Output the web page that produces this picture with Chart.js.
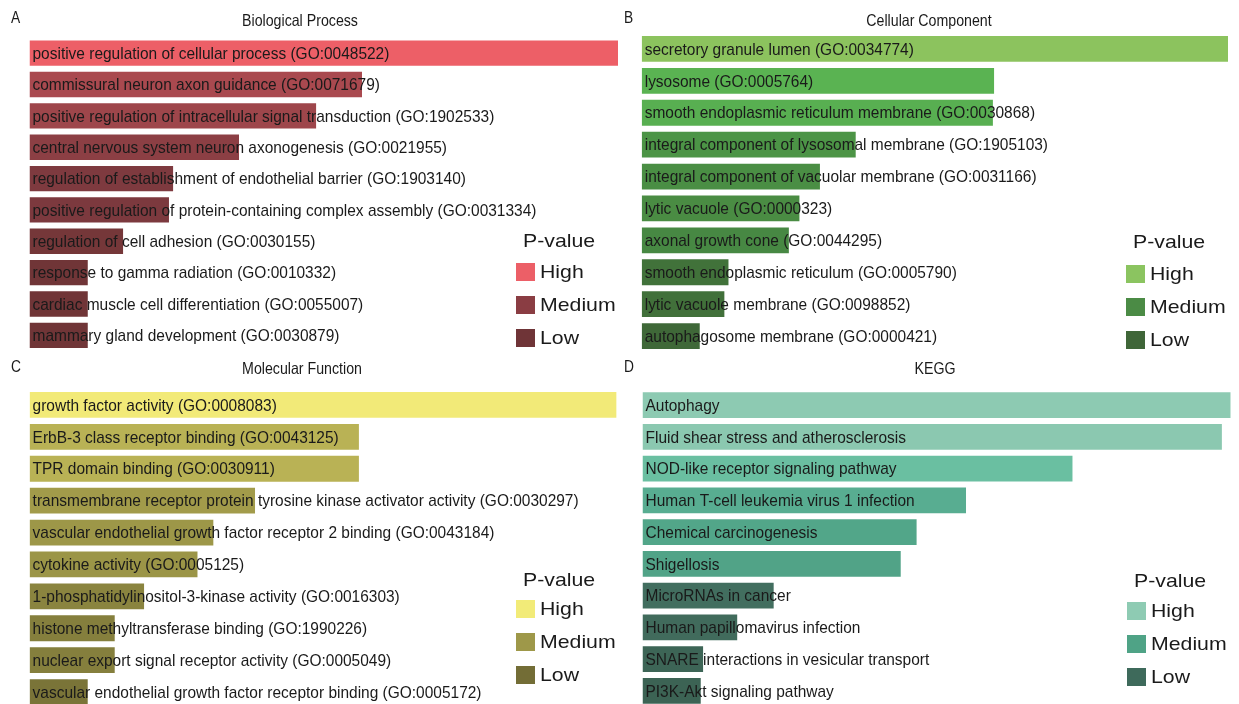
<!DOCTYPE html>
<html>
<head>
<meta charset="utf-8">
<script src="https://cdn.jsdelivr.net/npm/chart.js@4/dist/chart.umd.min.js"></script>
<style>
  html, body { margin: 0; padding: 0; background: #ffffff; width: 1239px; height: 704px; overflow: hidden; }
  canvas { position: absolute; }
</style>
</head>
<body>
<canvas id="bp" width="620" height="352" style="left:0;top:0"></canvas>
<canvas id="cc" width="619" height="352" style="left:620px;top:0"></canvas>
<canvas id="mf" width="620" height="360" style="left:0;top:352px"></canvas>
<canvas id="kegg" width="619" height="360" style="left:620px;top:352px"></canvas>
<script>
// ---- Enrichment terms and relative enrichment scores (top term = 100) ----
const bpTerms = [
  "positive regulation of cellular process (GO:0048522)",
  "commissural neuron axon guidance (GO:0071679)",
  "positive regulation of intracellular signal transduction (GO:1902533)",
  "central nervous system neuron axonogenesis (GO:0021955)",
  "regulation of establishment of endothelial barrier (GO:1903140)",
  "positive regulation of protein-containing complex assembly (GO:0031334)",
  "regulation of cell adhesion (GO:0030155)",
  "response to gamma radiation (GO:0010332)",
  "cardiac muscle cell differentiation (GO:0055007)",
  "mammary gland development (GO:0030879)"
];
const bpScores = [100, 56.5, 48.7, 35.6, 24.4, 23.7, 15.9, 9.9, 9.9, 9.9];

const ccTerms = [
  "secretory granule lumen (GO:0034774)",
  "lysosome (GO:0005764)",
  "smooth endoplasmic reticulum membrane (GO:0030868)",
  "integral component of lysosomal membrane (GO:1905103)",
  "integral component of vacuolar membrane (GO:0031166)",
  "lytic vacuole (GO:0000323)",
  "axonal growth cone (GO:0044295)",
  "smooth endoplasmic reticulum (GO:0005790)",
  "lytic vacuole membrane (GO:0098852)",
  "autophagosome membrane (GO:0000421)"
];
const ccScores = [100, 60.1, 59.9, 36.5, 30.4, 26.9, 25.1, 14.8, 14.1, 9.9];

const mfTerms = [
  "growth factor activity (GO:0008083)",
  "ErbB-3 class receptor binding (GO:0043125)",
  "TPR domain binding (GO:0030911)",
  "transmembrane receptor protein tyrosine kinase activator activity (GO:0030297)",
  "vascular endothelial growth factor receptor 2 binding (GO:0043184)",
  "cytokine activity (GO:0005125)",
  "1-phosphatidylinositol-3-kinase activity (GO:0016303)",
  "histone methyltransferase binding (GO:1990226)",
  "nuclear export signal receptor activity (GO:0005049)",
  "vascular endothelial growth factor receptor binding (GO:0005172)"
];
const mfScores = [100, 56.1, 56.1, 38.4, 31.3, 28.6, 19.5, 14.5, 14.5, 9.9];

const keggTerms = [
  "Autophagy",
  "Fluid shear stress and atherosclerosis",
  "NOD-like receptor signaling pathway",
  "Human T-cell leukemia virus 1 infection",
  "Chemical carcinogenesis",
  "Shigellosis",
  "MicroRNAs in cancer",
  "Human papillomavirus infection",
  "SNARE interactions in vesicular transport",
  "PI3K-Akt signaling pathway"
];
const keggScores = [100, 98.5, 73.1, 55.0, 46.6, 43.9, 22.3, 16.1, 10.3, 9.9];

const legendLevels = ["High", "Medium", "Low"];

// ---- Colours: each bar shaded by its P-value ----
const bpColors = ["#ed5f67", "#a9494f", "#9e464b", "#8c3f44", "#7e3a3f", "#7c393e", "#753739", "#703537", "#703537", "#703537"];
const ccColors = ["#8cc35e", "#5ab352", "#58af51", "#4c9446", "#4a8e44", "#4a8c43", "#478843", "#41723a", "#41703a", "#3f6838"];
const mfColors = ["#f2ea78", "#b9b255", "#b9b255", "#a29b4a", "#9d9748", "#9b9547", "#8a843f", "#857f3d", "#857f3d", "#7a7438"];
const keggColors = ["#8dcab2", "#8bc8b0", "#6abfa1", "#58ad91", "#52a689", "#51a387", "#426e5f", "#416b5c", "#3d6556", "#3c6354"];

const bpLegend = ["#ec5f67", "#8a3d43", "#6f3437"];
const ccLegend = ["#8bc460", "#4b8b45", "#3f6638"];
const mfLegend = ["#f2eb78", "#9e9849", "#736d36"];
const keggLegend = ["#8ecbb3", "#4fa386", "#3e6a5b"];

// Draw text with an optional horizontal squeeze/stretch.
function drawText(ctx, str, x, y, font, sx, align, color) {
  ctx.save();
  ctx.font = font;
  ctx.fillStyle = color || "#1a1a1a";
  ctx.textBaseline = "middle";
  ctx.textAlign = "left";
  const w = ctx.measureText(str).width * sx;
  const x0 = align === "center" ? x - w / 2 : x;
  ctx.translate(x0, y);
  ctx.scale(sx, 1);
  ctx.fillText(str, 0, 0);
  ctx.restore();
}

// Panel letter, title, in-bar term labels and the P-value legend.
const panelDecor = {
  id: "panelDecor",
  afterDatasetsDraw(chart, args, o) {
    const ctx = chart.ctx;
    drawText(ctx, o.letter, o.letterX, o.letterY, "16px 'Liberation Sans', Arial, sans-serif", 0.86, "left", "#1a1a1a");
    drawText(ctx, o.title, o.titleX, o.titleY, "16.5px 'Liberation Sans', Arial, sans-serif", 0.86, "center", "#1a1a1a");

    const meta = chart.getDatasetMeta(0);
    const labels = chart.data.labels;
    meta.data.forEach((bar, i) => {
      drawText(ctx, labels[i], bar.base + 3, bar.y + 1, "17px 'Liberation Sans', Arial, sans-serif", 0.91, "left", "#1a1a1a");
    });

    const lg = o.legend;
    drawText(ctx, "P-value", lg.x + 7, lg.y, "19px 'Liberation Sans', Arial, sans-serif", 1.12, "left", "#1a1a1a");
    legendLevels.forEach((lvl, i) => {
      const cy = lg.y + lg.first + i * lg.step;
      ctx.fillStyle = lg.colors[i];
      ctx.fillRect(lg.x, cy - 9, 19, 18);
      drawText(ctx, lvl, lg.x + 24, cy + 1, "19px 'Liberation Sans', Arial, sans-serif", 1.12, "left", "#1a1a1a");
    });
  }
};

function makePanel(id, terms, scores, colors, padding, decor) {
  return new Chart(document.getElementById(id), {
    type: "bar",
    data: {
      labels: terms,
      datasets: [{ data: scores, backgroundColor: colors, borderWidth: 0 }]
    },
    options: {
      indexAxis: "y",
      responsive: false,
      animation: false,
      events: [],
      layout: { padding: padding },
      datasets: { bar: { barPercentage: 0.81, categoryPercentage: 1 } },
      scales: {
        x: { display: false, min: 0, max: 100 },
        y: { display: false }
      },
      plugins: {
        legend: { display: false },
        tooltip: { enabled: false },
        panelDecor: decor
      }
    },
    plugins: [panelDecor]
  });
}

makePanel("bp", bpTerms, bpScores, bpColors,
  { left: 29.5, right: 2, top: 37.5, bottom: 1 },
  { letter: "A", letterX: 11, letterY: 19, title: "Biological Process", titleX: 300, titleY: 21,
    legend: { x: 516, y: 242, first: 30, step: 33, colors: bpLegend } });

makePanel("cc", ccTerms, ccScores, ccColors,
  { left: 21.7, right: 11, top: 33, bottom: 0 },
  { letter: "B", letterX: 4, letterY: 19, title: "Cellular Component", titleX: 309, titleY: 21,
    legend: { x: 506, y: 243, first: 31, step: 33, colors: ccLegend } });

makePanel("mf", mfTerms, mfScores, mfColors,
  { left: 29.6, right: 3.4, top: 37, bottom: 4 },
  { letter: "C", letterX: 11, letterY: 16, title: "Molecular Function", titleX: 302, titleY: 17,
    legend: { x: 516, y: 229, first: 28, step: 33, colors: mfLegend } });

makePanel("kegg", keggTerms, keggScores, keggColors,
  { left: 22.5, right: 8.3, top: 37.3, bottom: 5.2 },
  { letter: "D", letterX: 4, letterY: 16, title: "KEGG", titleX: 315, titleY: 17,
    legend: { x: 507, y: 230, first: 29, step: 33, colors: keggLegend } });
</script>
</body>
</html>
